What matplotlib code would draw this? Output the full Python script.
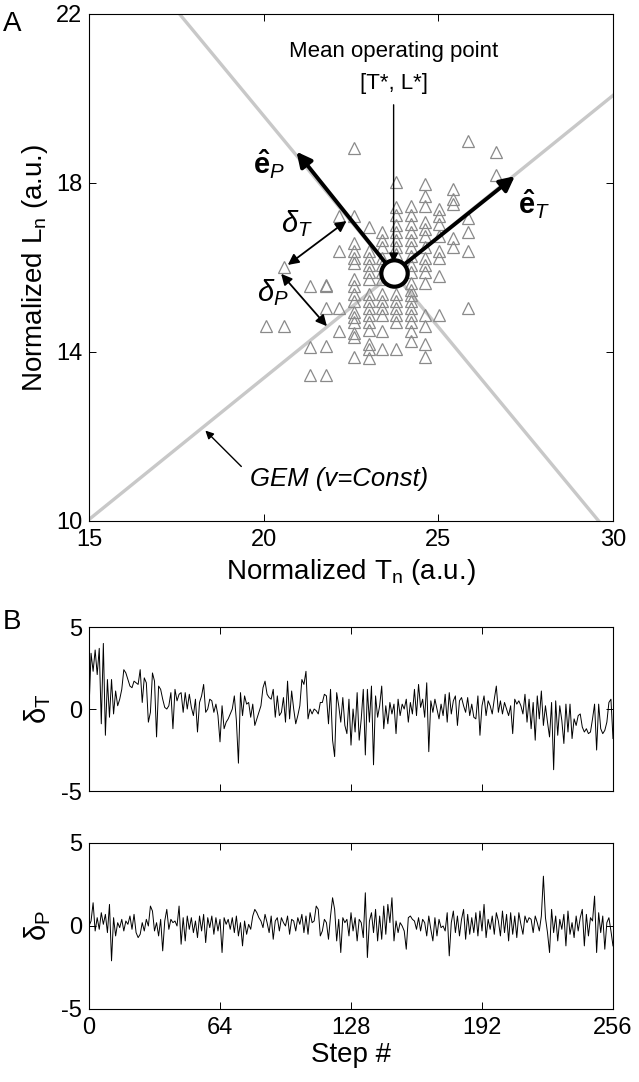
import numpy as np
import matplotlib
matplotlib.use("Agg")
import matplotlib.pyplot as plt

plt.rcParams['font.family'] = ['Liberation Sans', 'DejaVu Sans']
plt.rcParams['mathtext.fontset'] = 'custom'
plt.rcParams['mathtext.rm'] = 'Liberation Sans'
plt.rcParams['mathtext.it'] = 'Liberation Sans:italic'
plt.rcParams['mathtext.bf'] = 'Liberation Sans:bold'
plt.rcParams['axes.unicode_minus'] = False

# mean operating point
t_star = 23.72
l_star = 15.87
perp_slope = -1.0

# scatter of (T, L) operating points, grouped by T column
t_cols = [20.07, 20.59, 21.33, 21.78, 22.17, 22.59, 23.01, 23.38, 23.80,
          24.21, 24.63, 25.03, 25.42, 25.86, 26.65]
l_by_col = [
    [14.61],
    [16.02, 14.61],
    [15.55, 14.12, 13.46],
    [15.59, 15.55, 15.04, 14.14, 13.46],
    [17.21, 16.40, 15.04, 14.49],
    [18.83, 17.21, 16.57, 16.40, 16.23, 16.10, 15.72, 15.55, 15.38, 15.21,
     14.95, 14.83, 14.70, 14.44, 14.36, 13.89],
    [16.95, 16.40, 16.23, 16.06, 15.89, 15.72, 15.38, 15.21, 15.04, 14.87,
     14.70, 14.53, 14.19, 14.06, 13.85],
    [16.83, 16.66, 16.49, 16.23, 16.06, 15.89, 15.72, 15.38, 15.21, 15.04,
     14.87, 14.49, 14.06],
    [18.02, 17.42, 17.25, 17.00, 16.83, 16.66, 16.49, 16.31, 15.38, 15.21,
     15.04, 14.87, 14.70, 14.06],
    [17.46, 17.25, 17.04, 16.83, 16.66, 16.49, 16.27, 16.06, 15.89, 15.63,
     15.46, 15.34, 15.21, 15.04, 14.87, 14.70, 14.49, 14.27],
    [17.97, 17.68, 17.46, 17.08, 16.91, 16.74, 16.49, 16.23, 16.06, 15.89,
     15.63, 14.87, 14.61, 14.19, 13.89],
    [17.38, 17.21, 17.04, 16.74, 16.40, 16.23, 15.80, 14.87],
    [17.85, 17.63, 17.51, 16.70, 16.49],
    [19.00, 17.17, 16.83, 16.40, 15.04],
    [18.74, 18.20],
]

# deviations along the two directions, steps 0..256
delta_t = [
    0.0, 3.4, 2.3, 3.6, 2.1, 3.7, -0.9, 4.0, -1.6, 1.8, -0.5, 1.8, -0.3, 1.1, 0.2, 0.6,
    1.2, 2.4, 2.2, 1.8, 1.4, 1.3, 1.7, 1.6, 1.5, 2.4, 0.4, 1.9, 1.6, -0.8, -0.2, 2.2,
    1.7, -1.7, 1.4, 1.2, 0.6, 0.1, 0.0, 0.2, 1.0, -1.2, 1.2, 0.5, 0.9, 1.0, -0.2, 1.0,
    0.0, 0.9, 0.1, -0.4, 0.6, -1.4, 0.4, 0.8, 1.5, -0.2, 0.0, 0.6, 0.5, -0.2, 0.3, -0.4,
    -2.0, 0.2, -1.2, -0.8, -0.6, -0.3, 0.0, 0.8, -0.7, -3.3, 1.0, -0.4, 0.8, 0.3, 0.4, -0.5,
    0.3, -1.0, -0.6, -0.2, 0.2, 1.3, 1.7, 0.9, 0.7, 0.6, 1.2, -0.5, 0.8, -0.4, -0.2, 0.7,
    -0.8, 1.7, -0.6, 1.1, 0.0, -0.9, -0.4, 0.2, 1.8, 1.5, 2.3, -0.6, 0.0, -0.3, 0.0, -0.1,
    -0.3, 0.4, 0.4, 0.9, 0.8, -0.9, 1.2, -1.9, -2.9, 1.0, 0.2, -0.8, 0.7, -1.0, -1.5, 0.6,
    -2.2, 0.0, -1.4, 1.0, -1.9, -0.6, 1.2, -2.8, 1.2, -0.8, 1.4, -3.4, 0.8, -0.5, 0.2, 1.4,
    -1.2, 0.2, -0.9, 0.4, -0.3, 0.3, -1.5, 0.6, -0.4, 0.3, 0.0, 0.6, -0.8, 0.4, -0.3, 1.2,
    -0.4, 1.5, 0.1, 0.6, -0.5, 1.6, -2.6, 0.5, -0.2, 0.6, 0.0, -0.6, 0.3, -0.4, 0.9, -0.8,
    1.0, -0.3, 0.5, 0.8, -1.0, 0.5, 0.7, 0.2, -0.2, 0.7, -0.4, 0.3, -0.5, -0.6, 0.8, -1.6,
    0.2, 0.8, -0.4, 0.5, 0.2, -0.3, 0.6, 1.4, -0.2, 0.5, -0.3, 0.4, 0.0, -0.4, 0.2, -1.5,
    0.6, 0.3, 0.5, 0.2, -0.3, 0.9, -0.8, 0.6, -1.2, 0.4, -1.9, 0.8, -0.6, 1.1, -1.0, 0.2,
    -0.8, -1.7, 0.4, -3.7, 0.5, -1.6, 0.2, -0.7, -2.1, 0.3, -1.4, 0.3, -1.8, -0.6, -1.0, -0.4,
    -0.3, -1.1, -1.4, -1.2, -1.5, -1.4, -0.6, 0.3, -2.5, 0.3, -1.2, -1.5, -1.3, -0.8, 0.4, 0.6,
    -1.8,
]
delta_p = [
    0.0, 0.3, 1.4, -0.3, 0.5, -0.2, 0.8, 0.1, 0.7, -0.4, 1.3, -2.1, 0.5, -0.6, 0.2, -0.1,
    0.4, -0.3, 0.3, 0.1, 0.6, -0.2, 0.7, -0.4, -0.7, -0.5, 0.2, -0.3, 0.4, 0.0, 1.2, 0.9,
    -0.3, 0.2, -0.6, 0.4, -1.5, 0.3, 1.0, -0.2, 0.4, 0.2, 0.3, 0.0, 1.2, -1.1, 0.5, -0.9,
    0.6, -0.2, 0.5, -0.4, 0.3, -0.7, 0.6, -0.3, 0.7, -1.0, 0.5, -0.1, 0.6, -0.5, 0.5, -0.3,
    0.4, -1.6, 0.5, 0.1, 0.4, -0.2, 0.5, -0.4, 0.6, -0.6, 0.2, -1.2, 0.3, -0.5, 0.1, -0.2,
    0.6, 1.0, 0.8, 0.5, 0.3, -0.1, 0.7, 0.2, -0.4, 0.6, -0.8, 0.3, 0.5, -0.3, 0.5, 0.2,
    0.0, 0.6, -0.5, 0.4, 0.3, -0.3, 0.5, 0.1, 0.7, -0.4, 0.6, -0.5, 0.8, 0.2, 0.3, 1.2,
    1.0, -0.6, -0.3, 0.4, 0.2, -0.8, 0.6, 1.7, 1.0, -0.9, 0.4, -1.6, 0.5, 0.2, 0.4, -0.6,
    0.8, -0.3, 0.5, -0.9, 0.4, 0.2, -0.7, 2.0, -1.9, 0.3, 0.8, -0.4, 1.0, -0.9, 0.6, -0.8,
    1.2, -0.5, 1.3, 0.2, 1.7, -0.9, 0.3, -0.4, 0.2, 0.0, -0.3, -1.4, 0.5, 0.6, 0.4, 0.3,
    -0.2, 0.5, -0.3, 0.4, 0.2, -0.6, 0.6, -0.2, -0.9, 0.5, -0.6, 0.4, -0.1, 0.0, -0.3, 0.8,
    -1.8, 0.2, 0.9, -0.4, 0.6, -0.6, 0.4, 1.0, -0.8, 0.7, -0.5, 0.5, -0.4, 0.8, -0.6, 0.9,
    -0.3, 1.3, -0.7, 0.4, -0.2, 0.6, -0.5, 0.8, 0.3, -0.6, 0.9, -0.4, 0.7, -0.9, 0.8, -0.5,
    0.6, -0.7, 0.8, 0.1, -0.5, 0.6, 0.2, 0.5, 0.4, -0.4, 0.6, 0.2, -0.3, 0.6, 3.0, 0.5,
    -0.4, -1.6, 1.0, -0.4, 0.6, -0.9, 0.4, -0.2, 0.7, -1.2, 0.9, -0.5, 0.2, -0.7, 0.6, -0.3,
    0.5, 1.0, -1.2, 0.7, -0.6, 0.5, 0.3, 1.8, -1.6, 0.8, -0.4, 0.6, -1.4, 0.2, 0.5, -0.3,
    -1.2,
]

fig = plt.figure(figsize=(6.39, 10.82), dpi=100)

# ---------- panel A ----------
ax = fig.add_axes([0.1393, 0.5185, 0.820, 0.4686])
ax.set_xlim(15, 30)
ax.set_ylim(10, 22)

tt = np.array([15, 30])
ax.plot(tt, l_star / t_star * tt, color='#c8c8c8', lw=2.4, zorder=1)
ax.plot(tt, l_star + perp_slope * (tt - t_star), color='#c8c8c8', lw=2.4, zorder=1)

pts_t = np.concatenate([[t] * len(ls) for t, ls in zip(t_cols, l_by_col)])
pts_l = np.concatenate(l_by_col)
ax.plot(pts_t, pts_l, '^', ms=9, mfc='none', mec='#8a8a8a', mew=0.9, zorder=2)

# basis vectors
arr_thick = dict(arrowstyle='-|>', lw=2.8, color='k', mutation_scale=22,
                 shrinkA=0, shrinkB=0)
ax.annotate('', xy=(20.94, 18.74), xytext=(t_star, l_star), arrowprops=arr_thick, zorder=4)
ax.annotate('', xy=(27.19, 18.16), xytext=(t_star, l_star), arrowprops=arr_thick, zorder=4)
ax.plot(t_star, l_star, 'o', ms=19, mfc='white', mec='k', mew=3, zorder=6)

ax.text(20.15, 18.44, r'$\mathbf{\hat{e}}_{\mathit{P}}$', fontsize=21, ha='center', va='center')
ax.text(27.73, 17.50, r'$\mathbf{\hat{e}}_{\mathit{T}}$', fontsize=21, ha='center', va='center')

# deviation arrows
arr_dbl = dict(arrowstyle='<|-|>', lw=1.3, color='k', mutation_scale=16,
               shrinkA=0, shrinkB=0)
ax.annotate('', xy=(22.37, 17.10), xytext=(20.69, 16.06), arrowprops=arr_dbl, zorder=4)
ax.annotate('', xy=(20.50, 15.85), xytext=(21.81, 14.61), arrowprops=arr_dbl, zorder=4)
ax.text(20.94, 17.05, r'$\delta_{T}$', fontsize=21, ha='center', va='center')
ax.text(20.25, 15.40, r'$\delta_{P}$', fontsize=21, ha='center', va='center')

# mean operating point label
ax.text(t_star, 21.12, 'Mean operating point', fontsize=16, ha='center', va='center')
ax.text(t_star, 20.36, '[T*, L*]', fontsize=16, ha='center', va='center')
ax.annotate('', xy=(t_star, 16.12), xytext=(t_star, 19.85),
            arrowprops=dict(arrowstyle='-|>', lw=1.0, color='k', mutation_scale=14,
                            shrinkA=0, shrinkB=0), zorder=7)

# GEM label
ax.text(22.17, 11.0, 'GEM (v=Const)', fontsize=18.5, style='italic', ha='center', va='center')
ax.annotate('', xy=(18.33, 12.14), xytext=(19.36, 11.29),
            arrowprops=dict(arrowstyle='-|>', lw=1.0, color='k', mutation_scale=12,
                            shrinkA=0, shrinkB=0))

ax.set_xticks([15, 20, 25, 30])
ax.set_yticks([10, 14, 18, 22])
ax.set_xlabel(r'Normalized T$_\mathregular{n}$ (a.u.)', fontsize=20, labelpad=4)
ax.set_ylabel(r'Normalized L$_\mathregular{n}$ (a.u.)', fontsize=20, labelpad=4)

# ---------- panel B ----------
steps = np.arange(len(delta_t))
ax1 = fig.add_axes([0.1393, 0.2689, 0.820, 0.1516])
ax1.plot(steps, delta_t, color='k', lw=0.7)
ax1.set_ylabel(r'δ$_\mathregular{T}$', fontsize=21, labelpad=6)

ax2 = fig.add_axes([0.1393, 0.0675, 0.820, 0.1534])
ax2.plot(steps, delta_p, color='k', lw=0.7)
ax2.set_ylabel(r'δ$_\mathregular{P}$', fontsize=21, labelpad=6)
ax2.set_xlabel('Step #', fontsize=20, labelpad=2)

for a in (ax1, ax2):
    a.set_xlim(0, 256)
    a.set_ylim(-5, 5)
    a.set_xticks([0, 64, 128, 192, 256])
    a.set_yticks([-5, 0, 5])
ax1.set_xticklabels([])

for a in (ax, ax1, ax2):
    a.tick_params(direction='in', top=True, right=True, labelsize=17, length=5, width=0.7)
    a.tick_params(axis='x', pad=6)
    a.tick_params(axis='y', pad=5)
    for s in a.spines.values():
        s.set_linewidth(0.8)

fig.text(0.005, 0.99, 'A', fontsize=20, va='top')
fig.text(0.005, 0.437, 'B', fontsize=20, va='top')

fig.savefig('out.png', dpi=100)
